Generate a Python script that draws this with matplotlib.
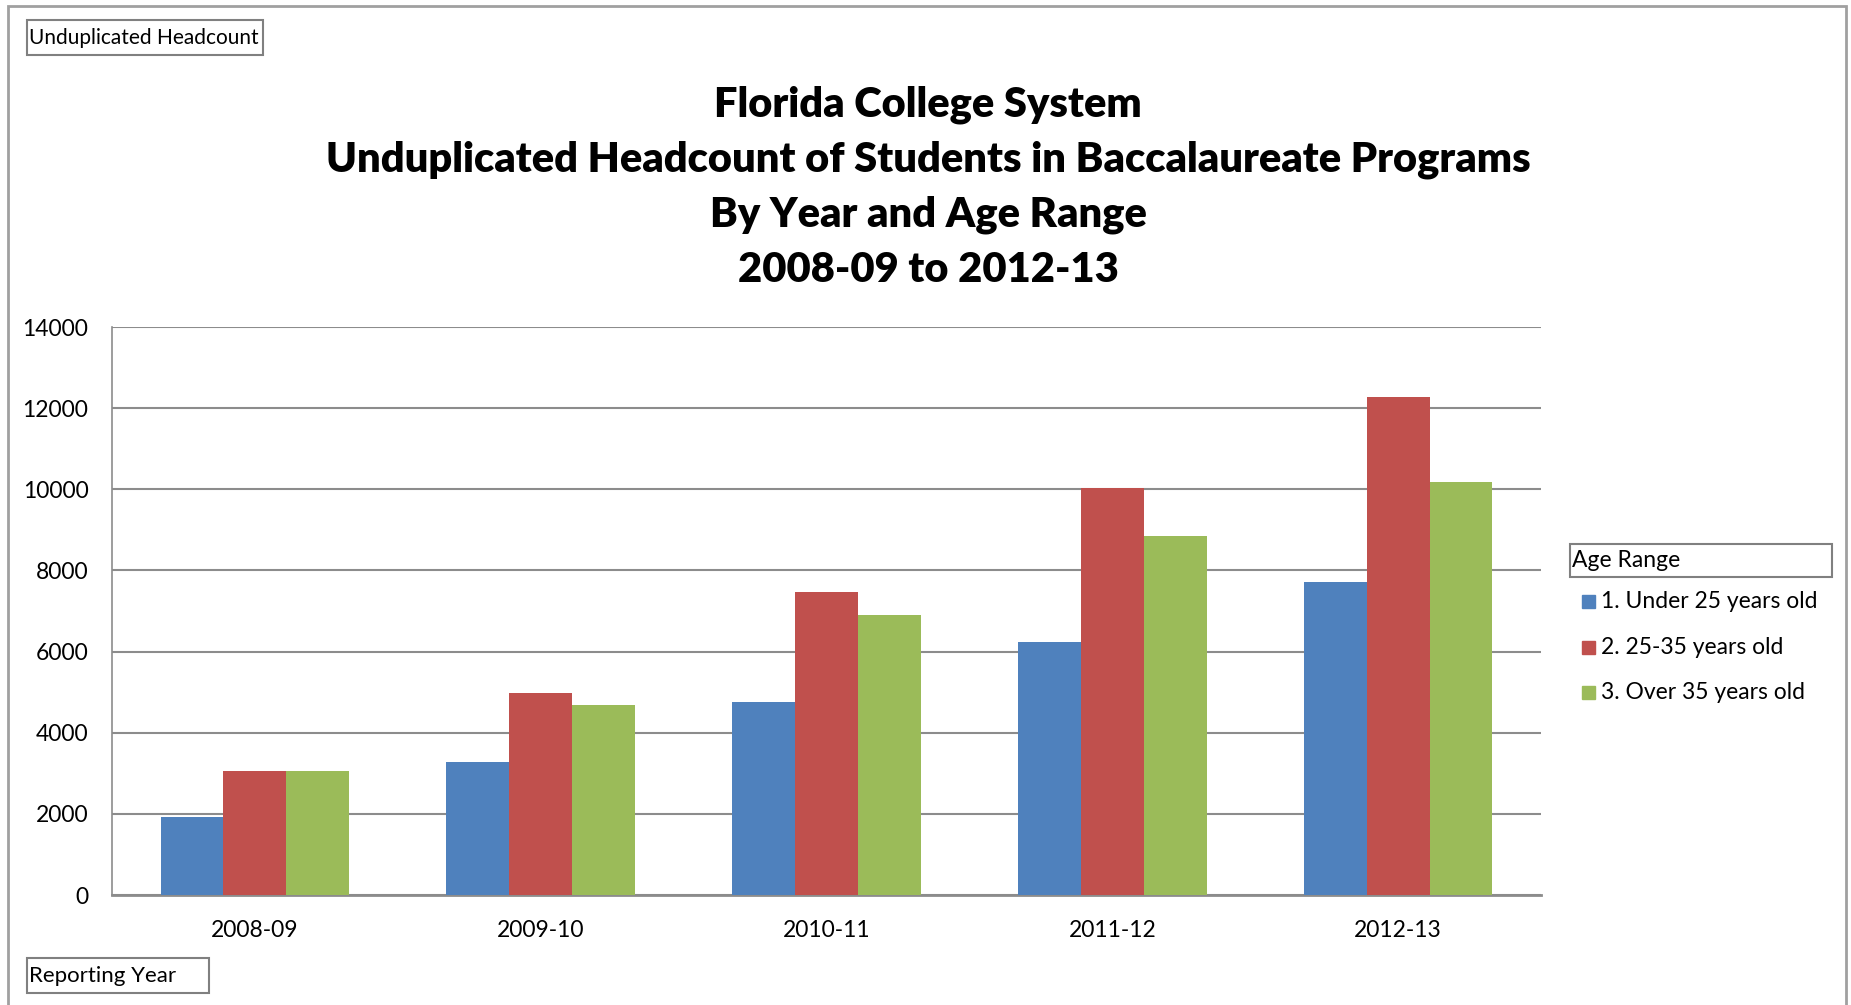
import numpy as np
import matplotlib
matplotlib.use('Agg')
from matplotlib import pyplot as plt
from matplotlib.patches import Rectangle

'''
Data
'''
years = ['2008-09', '2009-10', '2010-11', '2011-12', '2012-13']
under25 = [1920, 3290, 4750, 6225, 7710]
age25to35 = [3045, 4985, 7460, 10040, 12285]
over35 = [3045, 4690, 6890, 8850, 10185]
series_names = ['1. Under 25 years old', '2. 25-35 years old', '3. Over 35 years old']
yticks = [0, 2000, 4000, 6000, 8000, 10000, 12000, 14000]

colors = ['#4F81BD', '#C0504D', '#9BBB59']
plt.rcParams['font.family'] = ['Lato', 'DejaVu Sans']

W, H = 1851, 1005
fig = plt.figure(figsize=(W / 100, H / 100), dpi=100)

def fx(px):
    return px / W

def fy(py):
    return 1 - py / H

# outer chart border
fig.patches.append(Rectangle((fx(8), fy(1010)), fx(1846 - 8), (1010 - 6) / H,
                             transform=fig.transFigure, fill=False, edgecolor='#a0a0a0', lw=2))

# plot area
ax = fig.add_axes([fx(112), fy(895), fx(1541 - 112), (895 - 327) / H])
x = np.arange(len(years))
bw = 0.22
for i, vals in enumerate([under25, age25to35, over35]):
    ax.bar(x + (i - 1) * bw, vals, width=bw, color=colors[i], label=series_names[i], zorder=3)

ax.set_xlim(-0.5, len(years) - 0.5)
ax.set_ylim(0, 14000)
ax.set_yticks(yticks)
ax.set_yticklabels([str(v) for v in yticks], fontsize=16.5)
ax.set_xticks(x)
ax.set_xticklabels(years, fontsize=16.5)
ax.yaxis.grid(True, color='#8c8c8c', lw=1.5, zorder=0)
for s in ['top', 'right']:
    ax.spines[s].set_visible(False)
ax.spines['left'].set_color('#8c8c8c')
ax.spines['bottom'].set_color('#8c8c8c')
ax.spines['bottom'].set_linewidth(2)
ax.spines['left'].set_linewidth(1.2)
ax.tick_params(axis='y', length=0, pad=17)
ax.tick_params(axis='x', length=0, pad=18)

# title
title_lines = ['Florida College System',
               'Unduplicated Headcount of Students in Baccalaureate Programs',
               'By Year and Age Range',
               '2008-09 to 2012-13']
for k, line in enumerate(title_lines):
    fig.text(fx(928), fy(105 + 55 * k), line, ha='center', va='center',
             fontsize=30, fontweight='heavy')

# field buttons
def field_box(x0, y0, x1, y1, label, fs=15):
    fig.patches.append(Rectangle((fx(x0), fy(y1)), fx(x1 - x0), (y1 - y0) / H,
                                 transform=fig.transFigure, fill=False,
                                 edgecolor='#808080', lw=1.5))
    fig.text(fx(x0 + 2), fy((y0 + y1) / 2), label, ha='left', va='center', fontsize=fs)

field_box(27, 20, 263, 55, 'Unduplicated Headcount')
field_box(27, 958, 209, 993, 'Reporting Year', fs=16)
field_box(1570, 544, 1832, 577, 'Age Range', fs=16.5)

# legend
leg_y = [601, 647, 692]
for i, name in enumerate(series_names):
    fig.patches.append(Rectangle((fx(1582), fy(leg_y[i] + 7)), fx(13), 13 / H,
                                 transform=fig.transFigure, color=colors[i]))
    fig.text(fx(1601), fy(leg_y[i]), name, ha='left', va='center', fontsize=16.5)

fig.savefig('out.png', dpi=100)
